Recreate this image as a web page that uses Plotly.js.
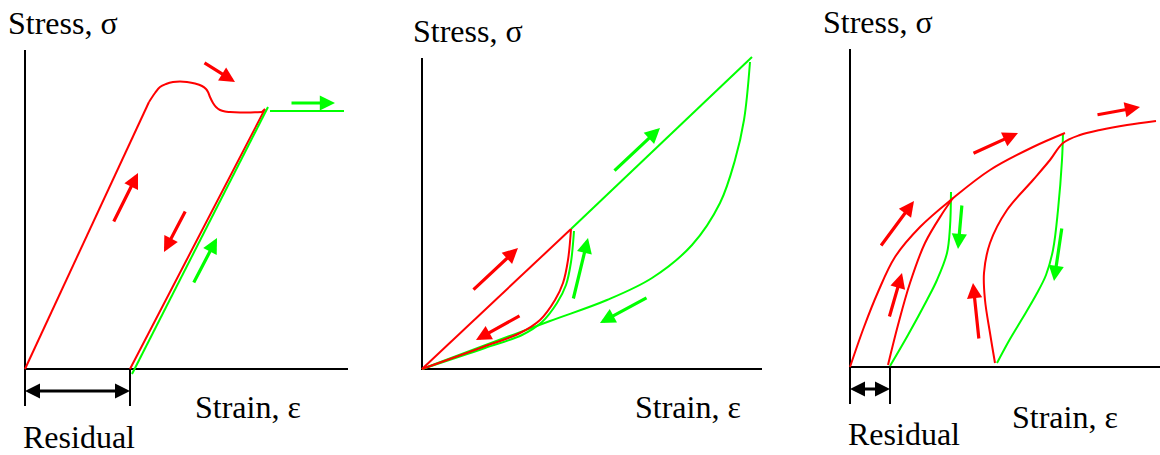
<!DOCTYPE html>
<html>
<head>
<meta charset="utf-8">
<script src="https://cdn.plot.ly/plotly-3.0.1.min.js"></script>
<style>
  html, body { margin: 0; padding: 0; background: #ffffff; }
  #chart { width: 1160px; height: 455px; }
</style>
</head>
<body>
<div id="chart"></div>
<script>
// ---------- Panel 1: yield plateau, elastic unloading, reloading ----------
const p1AxisExtent = [323, 319];               // strain, stress
const p1Residual = [0, 105];
const p1LoadStrain = [0, 124];
const p1LoadStress = [0, 267];
const p1YieldStrain = [124, 130, 135, 141, 148, 155, 162, 170, 177, 181, 183, 185, 188, 191, 195, 200, 205, 215, 222, 230, 237];
const p1YieldStress = [267, 276, 282, 285, 287, 287.5, 287, 285.5, 283, 280, 277, 272, 266, 262, 259, 257.5, 257, 256.5, 256.5, 256.7, 257];
const p1UnloadStrain = [237, 240, 105];
const p1UnloadStress = [257, 260, 0];
const p1ReloadStrain = [107, 243];
const p1ReloadStress = [-5, 262];
const p1FlowStrain = [245, 319];
const p1FlowStress = [258, 258];
// arrows: [tailStrain, tailStress, tipStrain, tipStress]
const p1RedArrows = [[178, 307, 210, 287], [88, 146, 113, 196], [161, 159, 139, 117]];
const p1GreenArrows = [[168, 85, 192, 131], [265, 266, 310, 266]];

// ---------- Panel 2: hysteresis loops ----------
const p2AxisExtent = [340, 311];
const p2LoadStrain = [0, 149];
const p2LoadStress = [0, 140];
const p2InnerUnloadStrain = [149, 146, 141, 133, 118, 98, 61, 0];
const p2InnerUnloadStress = [140, 109, 86, 69, 49, 36, 22, 0];
const p2InnerReloadStrain = [152, 149, 144, 135, 120, 100, 63, 0];
const p2InnerReloadStress = [138, 107, 84, 66, 47, 34, 21, 0];
const p2OuterLoadStrain = [149, 330];
const p2OuterLoadStress = [140, 312];
const p2OuterUnloadStrain = [328, 322, 313, 298, 270, 230, 185, 128, 61, 0];
const p2OuterUnloadStress = [307, 249, 209, 166, 124, 91, 69, 48, 23, 0];
const p2RedArrows = [[50, 78, 96, 121], [99, 54, 54, 29]];
const p2GreenArrows = [[151, 69, 166, 131], [191, 197, 238, 241], [226, 72, 178, 46]];

// ---------- Panel 3: repeated unloading / reloading with hardening ----------
const p3AxisExtent = [310, 318];
const p3Residual = [0, 40];
const p3LoadStrain = [0, 14, 28, 45, 70, 102, 140, 183, 215];
const p3LoadStress = [0, 40, 75, 110, 140, 168, 197, 220, 234];
const p3Unload1Strain = [101, 100, 97, 87, 77, 58, 40];
const p3Unload1Stress = [175, 140, 114, 87, 67, 32, 1];
const p3Reload1Strain = [38, 48, 60, 75, 92, 103];
const p3Reload1Stress = [2, 42, 84, 124, 153, 169];
const p3Unload2Strain = [213, 212, 208, 203, 196, 186, 172, 160, 147];
const p3Unload2Stress = [234, 207, 157, 117, 92, 72, 48, 28, 4];
const p3Reload2Strain = [145, 140, 135, 134, 140, 157, 183, 200, 213, 230, 250, 277, 306];
const p3Reload2Stress = [4, 34, 67, 94, 124, 157, 187, 207, 224, 232, 237, 242, 246];
const p3RedArrows = [[30, 120, 64, 166], [39, 49, 52, 94], [129, 27, 123, 84], [122, 213, 168, 234], [246, 252, 290, 260]];
const p3GreenArrows = [[112, 163, 108, 118], [212, 140, 204, 86]];

// ---------- layout helpers ----------
const RED = '#ff0000';
const GREEN = '#00ff00';
const BLACK = '#000000';
const W = 1160, H = 455;
const FONT = "'Liberation Serif', 'Times New Roman', serif";

// origin (pixel) and horizontal span of each panel; 1 data unit = 1 px
const panels = [
  { ox: 25,  oy: 369, left: 0,   right: 380 },
  { ox: 422, oy: 369, left: 390, right: 780 },
  { ox: 850, oy: 367, left: 800, right: 1160 }
];

const traces = [];
const annotations = [];

function refs(k) {
  const s = k === 0 ? '' : String(k + 1);
  return { x: 'x' + s, y: 'y' + s };
}

function line(k, xs, ys, color, width, smooth) {
  const r = refs(k);
  traces.push({
    type: 'scatter', mode: 'lines', x: xs, y: ys,
    xaxis: r.x, yaxis: r.y, hoverinfo: 'skip',
    line: { color: color, width: width, shape: smooth ? 'spline' : 'linear', smoothing: 1 }
  });
}

function arrows(k, list, color) {
  const r = refs(k);
  list.forEach(a => {
    annotations.push({
      xref: r.x, yref: r.y, axref: r.x, ayref: r.y,
      ax: a[0], ay: a[1], x: a[2], y: a[3],
      text: '', showarrow: true, arrowhead: 2, arrowsize: 0.95, arrowwidth: 3.2,
      arrowcolor: color, standoff: 0, startstandoff: 0
    });
  });
}

function axesL(k, extent) {
  line(k, [0, 0, extent[0]], [extent[1], 0, 0], BLACK, 2, false);
}

function residual(k, span) {
  const r = refs(k);
  line(k, [span[0], span[0]], [0, -37], BLACK, 2, false);
  line(k, [span[1], span[1]], [0, -37], BLACK, 2, false);
  annotations.push({
    xref: r.x, yref: r.y, axref: r.x, ayref: r.y,
    ax: span[0], ay: -22, x: span[1], y: -22,
    text: '', showarrow: true, arrowside: 'end+start',
    arrowhead: 2, startarrowhead: 2, arrowsize: 1, startarrowsize: 1, arrowwidth: 3,
    arrowcolor: BLACK, standoff: 0, startstandoff: 0, borderpad: 0, borderwidth: 0
  });
}

function label(k, text, x, y) {
  const r = refs(k);
  annotations.push({
    xref: r.x, yref: r.y, x: x, y: y, xanchor: 'left', yanchor: 'middle',
    text: text, showarrow: false, borderpad: 0, borderwidth: 0,
    font: { family: FONT, size: 32, color: BLACK }
  });
}

// Panel 1
axesL(0, p1AxisExtent);
residual(0, p1Residual);
line(0, p1LoadStrain, p1LoadStress, RED, 2, false);
line(0, p1YieldStrain, p1YieldStress, RED, 2, true);
line(0, p1UnloadStrain, p1UnloadStress, RED, 2, false);
line(0, p1ReloadStrain, p1ReloadStress, GREEN, 2, false);
line(0, p1FlowStrain, p1FlowStress, GREEN, 2, false);
arrows(0, p1RedArrows, RED);
arrows(0, p1GreenArrows, GREEN);
label(0, 'Stress, σ', -17, 346.5);
label(0, 'Strain, ε', 170, -37.5);
label(0, 'Residual', -2, -67.5);

// Panel 2
axesL(1, p2AxisExtent);
line(1, p2OuterUnloadStrain, p2OuterUnloadStress, GREEN, 2, true);
line(1, p2OuterLoadStrain, p2OuterLoadStress, GREEN, 2, false);
line(1, p2InnerReloadStrain, p2InnerReloadStress, GREEN, 2, true);
line(1, p2InnerUnloadStrain, p2InnerUnloadStress, RED, 2, true);
line(1, p2LoadStrain, p2LoadStress, RED, 2, false);
arrows(1, p2RedArrows, RED);
arrows(1, p2GreenArrows, GREEN);
label(1, 'Stress, σ', -9, 338);
label(1, 'Strain, ε', 213, -37.5);

// Panel 3
axesL(2, p3AxisExtent);
residual(2, p3Residual);
line(2, p3Unload1Strain, p3Unload1Stress, GREEN, 2, true);
line(2, p3Unload2Strain, p3Unload2Stress, GREEN, 2, true);
line(2, p3LoadStrain, p3LoadStress, RED, 2, true);
line(2, p3Reload1Strain, p3Reload1Stress, RED, 2, true);
line(2, p3Reload2Strain, p3Reload2Stress, RED, 2, true);
arrows(2, p3RedArrows, RED);
arrows(2, p3GreenArrows, GREEN);
label(2, 'Stress, σ', -27, 345.5);
label(2, 'Strain, ε', 162, -49.5);
label(2, 'Residual', -2, -66.5);

const layout = {
  width: W, height: H,
  margin: { l: 0, r: 0, t: 0, b: 0, pad: 0 },
  paper_bgcolor: '#ffffff', plot_bgcolor: '#ffffff',
  showlegend: false, hovermode: false,
  annotations: annotations
};
panels.forEach((p, k) => {
  const r = refs(k);
  const xs = r.x.replace('x', 'xaxis');
  const ys = r.y.replace('y', 'yaxis');
  layout[xs] = {
    domain: [p.left / W, p.right / W],
    range: [p.left - p.ox, p.right - p.ox],
    visible: false, fixedrange: true, anchor: r.y
  };
  layout[ys] = {
    domain: [0, 1],
    range: [p.oy - H, p.oy],
    visible: false, fixedrange: true, anchor: r.x
  };
});

Plotly.newPlot('chart', traces, layout, { staticPlot: true, displayModeBar: false });
</script>
</body>
</html>
